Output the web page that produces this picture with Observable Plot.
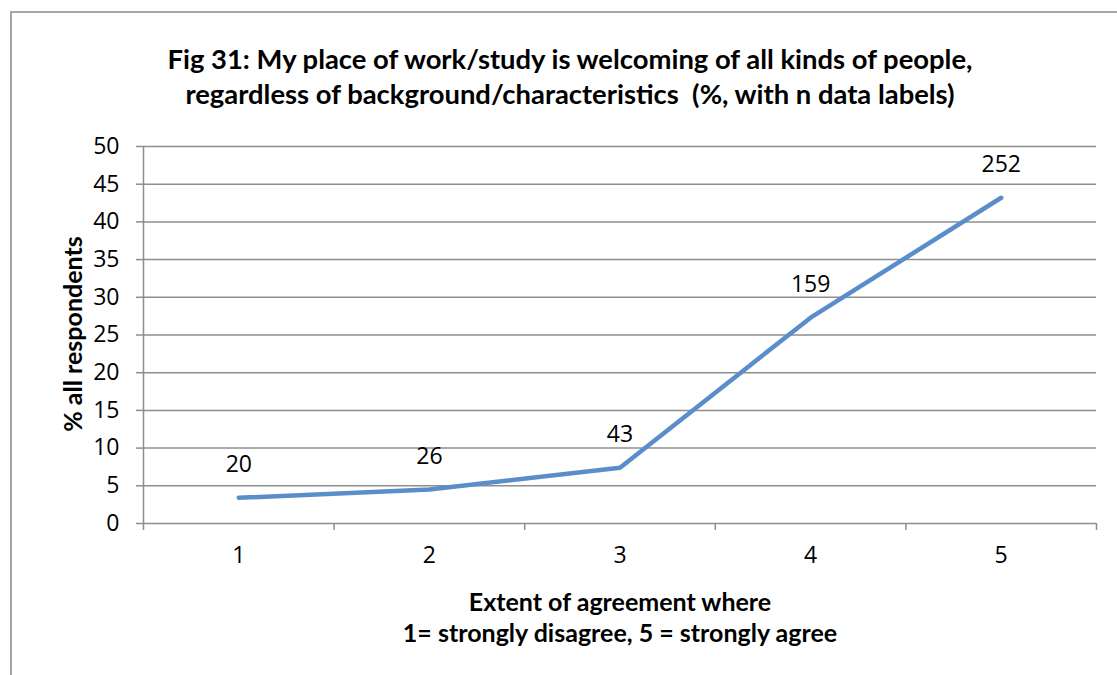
<!DOCTYPE html>
<html>
<head>
<meta charset="utf-8">
<script src="https://cdn.jsdelivr.net/npm/d3@7"></script>
<script src="https://cdn.jsdelivr.net/npm/@observablehq/plot@0.6"></script>
<style>
  html, body { margin: 0; padding: 0; background: #fff; }
  #wrap { position: relative; width: 1117px; height: 675px; overflow: hidden; font-family: Lato, "Open Sans", sans-serif; color: #000; }
  #frame { position: absolute; left: 10px; top: 11px; width: 1200px; height: 800px; border-top: 2px solid #a6a6a6; border-left: 2px solid #a6a6a6; }
  #chart { position: absolute; left: 0; top: 0; }
  .title { position: absolute; left: 0; width: 1140px; top: 41px; text-align: center; font-weight: bold; font-size: 27.4px; line-height: 35px; }
  .ylab { position: absolute; left: 72px; top: 334px; transform: translate(-50%, -50%) rotate(-90deg); white-space: nowrap; font-weight: bold; font-size: 25px; }
  .xlab { position: absolute; left: 320px; width: 600px; top: 586px; text-align: center; font-weight: bold; font-size: 25px; line-height: 31px; }
</style>
</head>
<body>
<div id="wrap">
  <div id="frame"></div>
  <div id="chart"></div>
  <div class="title">Fig 31: My place of work/study is welcoming of all kinds of people,<br>regardless of background/characteristics&nbsp; (%, with n data labels)</div>
  <div class="ylab">% all respondents</div>
  <div class="xlab">Extent of agreement where<br>1= strongly disagree, 5 = strongly agree</div>
</div>
<script>
const categories = [1, 2, 3, 4, 5];
const percents = [3.4, 4.5, 7.4, 27.3, 43.2];
const counts = [20, 26, 43, 159, 252];
const yTicks = [0, 5, 10, 15, 20, 25, 30, 35, 40, 45, 50];

const data = categories.map((c, i) => ({cat: c, pct: percents[i], n: counts[i]}));
const boundaries = [...categories.map(c => c - 0.5), categories[categories.length - 1] + 0.5];
const xDomain = [boundaries[0], boundaries[boundaries.length - 1]];

const gridColor = "#8e8e8e";

const chart = Plot.plot({
  width: 1117,
  height: 675,
  marginLeft: 143,
  marginRight: 21,
  marginTop: 146,
  marginBottom: 152,
  style: { fontFamily: "'Open Sans', sans-serif", fontSize: "23px", background: "transparent", color: "#000", overflow: "visible" },
  x: { type: "linear", domain: xDomain },
  y: { domain: [0, 50] },
  marks: [
    Plot.gridY(yTicks, { stroke: gridColor, strokeOpacity: 1, strokeWidth: 1.5 }),
    Plot.ruleX([xDomain[0]], { stroke: gridColor, strokeWidth: 1.5 }),
    Plot.axisY(yTicks, { tickSize: 7, tickPadding: 17, stroke: gridColor, strokeWidth: 1.5, label: null, fill: "#000", fontSize: 23 }),
    Plot.axisX(boundaries, { tickSize: 7, tickFormat: () => "", stroke: gridColor, strokeWidth: 1.5, label: null }),
    Plot.axisX(categories, { tickSize: 0, tickPadding: 23, tickFormat: d => String(d), label: null, fill: "#000", fontSize: 23 }),
    Plot.line(data, { x: "cat", y: "pct", stroke: "#5a8ecb", strokeWidth: 4.5, strokeLinecap: "round", strokeLinejoin: "round" }),
    Plot.text(data, { x: "cat", y: "pct", text: d => String(d.n), dy: -33, fill: "#000", fontSize: 23 })
  ]
});
document.getElementById("chart").appendChild(chart);
</script>
</body>
</html>
